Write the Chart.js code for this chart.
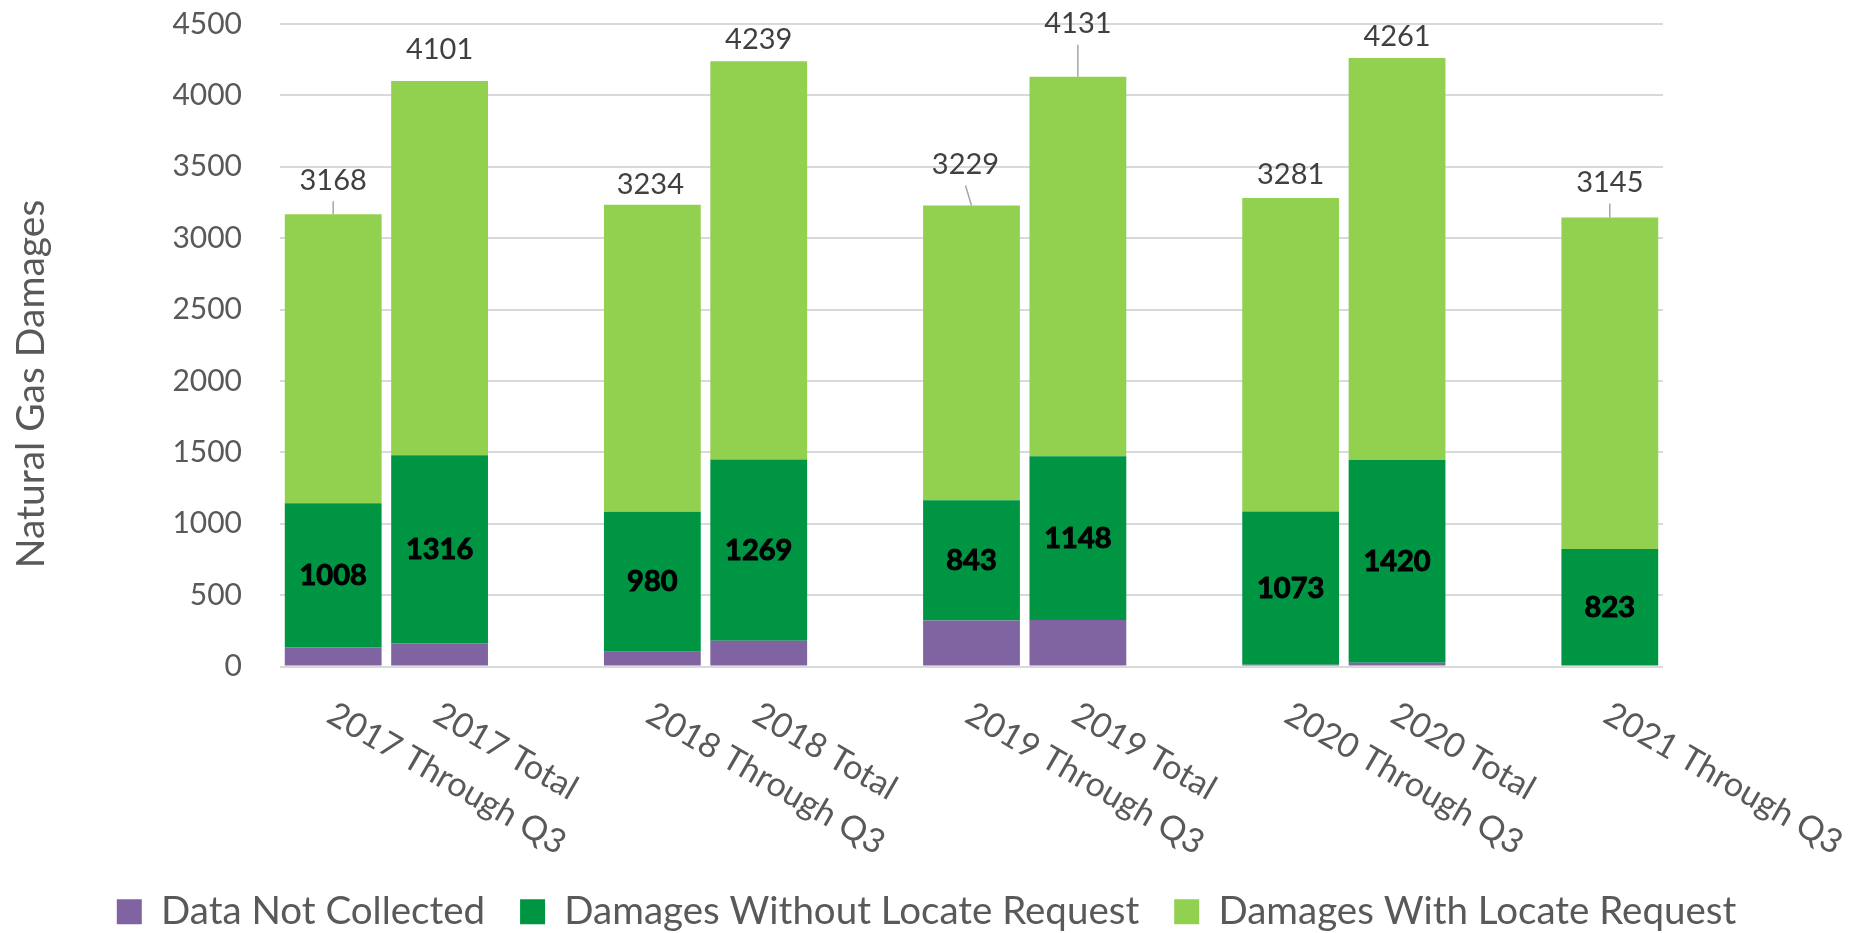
<!DOCTYPE html>
<html>
<head>
<meta charset="utf-8">
<title>Natural Gas Damages</title>
<script src="https://cdn.jsdelivr.net/npm/chart.js@4.4.0/dist/chart.umd.min.js"></script>
<style>
    html, body { margin: 0; padding: 0; background: #fff; }
    #wrap { width: 1853px; height: 933px; }
</style>
</head>
<body>
<div id="wrap"><canvas id="damagesChart" width="1853" height="933"></canvas></div>
<script>
// Categories (empty slots keep the gap between years)
const categories = ['2017 Through Q3', '2017 Total', '', '2018 Through Q3', '2018 Total', '',
    '2019 Through Q3', '2019 Total', '', '2020 Through Q3', '2020 Total', '', '2021 Through Q3'];

// Series values
const dataNotCollected = [135, 163, null, 103, 180, null, 322, 325, null, 12, 26, null, 0];
const withoutLocate = [1008, 1316, null, 980, 1269, null, 843, 1148, null, 1073, 1420, null, 823];
const withLocate = [2025, 2622, null, 2151, 2790, null, 2064, 2658, null, 2196, 2815, null, 2322];
const totals = [3168, 4101, null, 3234, 4239, null, 3229, 4131, null, 3281, 4261, null, 3145];

// Y axis tick labels
const yTickValues = [0, 500, 1000, 1500, 2000, 2500, 3000, 3500, 4000, 4500];

// How far each total label sits above its bar (px), and which get a leader line
const totalLabelLift = [34, 31, 0, 20, 22, 0, 41, 53, 0, 23, 21, 0, 35];
const totalLabelShift = [0, 0, 0, -2, 0, 0, -6, 0, 0, 0, 0, 0, 0];
const totalLabelLeader = [true, false, false, false, false, false, true, true, false, false, false, false, true];

const FONT = 'Lato, "Open Sans", sans-serif';
const GREY = '#595959';

document.addEventListener('DOMContentLoaded', function() {

    // Rotated category labels, y axis title and bar labels
    const labelPlugin = {
        id: 'labelPlugin',
        afterDatasetsDraw(chart) {
            const ctx = chart.ctx;
            const xScale = chart.scales.x;
            const area = chart.chartArea;

            // values inside the dark green segments
            const midMeta = chart.getDatasetMeta(1);
            ctx.save();
            ctx.font = 'bold 29px ' + FONT;
            ctx.textAlign = 'center';
            ctx.textBaseline = 'middle';
            ctx.fillStyle = '#000';
            ctx.strokeStyle = '#000';
            ctx.lineWidth = 1;
            midMeta.data.forEach((bar, i) => {
                if (withoutLocate[i] == null) return;
                const y = (bar.y + bar.base) / 2;
                ctx.strokeText(String(withoutLocate[i]), bar.x, y);
                ctx.fillText(String(withoutLocate[i]), bar.x, y);
            });
            ctx.restore();

            // totals above the bars
            const topMeta = chart.getDatasetMeta(2);
            ctx.save();
            ctx.font = '29px ' + FONT;
            ctx.textAlign = 'center';
            ctx.textBaseline = 'middle';
            ctx.fillStyle = '#404040';
            topMeta.data.forEach((bar, i) => {
                if (totals[i] == null) return;
                const lx = bar.x + totalLabelShift[i];
                const ly = bar.y - totalLabelLift[i];
                ctx.fillText(String(totals[i]), lx, ly);
                if (totalLabelLeader[i]) {
                    ctx.beginPath();
                    ctx.strokeStyle = '#A6A6A6';
                    ctx.lineWidth = 1.5;
                    ctx.moveTo(lx, ly + 21);
                    ctx.lineTo(bar.x, bar.y);
                    ctx.stroke();
                }
            });
            ctx.restore();

            // category labels, slanted down to the right
            ctx.save();
            ctx.font = '34px ' + FONT;
            ctx.fillStyle = GREY;
            ctx.textAlign = 'left';
            ctx.textBaseline = 'middle';
            categories.forEach((label, i) => {
                if (!label) return;
                const x = xScale.getPixelForValue(i);
                ctx.save();
                ctx.translate(x - 3, area.bottom + 45);
                ctx.rotate(Math.PI / 6);
                ctx.fillText(label, 0, 0);
                ctx.restore();
            });
            ctx.restore();

            // y axis title
            ctx.save();
            ctx.font = '39px ' + FONT;
            ctx.fillStyle = GREY;
            ctx.textAlign = 'center';
            ctx.textBaseline = 'middle';
            ctx.translate(31, 384);
            ctx.rotate(-Math.PI / 2);
            ctx.fillText('Natural Gas Damages', 0, 0);
            ctx.restore();
        }
    };

    const chartData = {
        labels: categories,
        datasets: [
            {
                label: 'Data Not Collected',
                data: dataNotCollected,
                backgroundColor: '#8064A2'
            },
            {
                label: 'Damages Without Locate Request',
                data: withoutLocate,
                backgroundColor: '#009543'
            },
            {
                label: 'Damages With Locate Request',
                data: withLocate,
                backgroundColor: '#92D050'
            }
        ]
    };

    const damagesChart = new Chart(
        document.getElementById('damagesChart'),
        {
            type: 'bar',
            data: chartData,
            plugins: [labelPlugin],
            options: {
                responsive: false,
                animation: false,
                barPercentage: 0.91,
                categoryPercentage: 1,
                layout: {
                    padding: { top: 24, left: 0, right: 0, bottom: -8 }
                },
                plugins: {
                    legend: {
                        position: 'bottom',
                        labels: {
                            boxWidth: 25,
                            boxHeight: 25,
                            padding: 35,
                            color: GREY,
                            font: { family: FONT, size: 38.5 }
                        }
                    },
                    tooltip: { enabled: false }
                },
                scales: {
                    x: {
                        stacked: true,
                        grid: { display: false },
                        border: { display: false },
                        ticks: { display: false },
                        afterFit: function(scale) { scale.height = 191; }
                    },
                    y: {
                        stacked: true,
                        min: 0,
                        max: 4500,
                        afterBuildTicks: function(scale) {
                            scale.ticks = yTickValues.map(v => ({ value: v }));
                        },
                        ticks: {
                            color: GREY,
                            padding: 0,
                            font: { family: FONT, size: 30 },
                            callback: function(value) { return String(value); }
                        },
                        grid: {
                            color: '#D9D9D9',
                            lineWidth: 2,
                            drawTicks: true,
                            tickLength: 38,
                            tickColor: 'rgba(0,0,0,0)'
                        },
                        border: { display: false },
                        afterFit: function(scale) { scale.width = 280; }
                    },
                    // empty right-hand axis that only keeps room at the right edge
                    yPad: {
                        position: 'right',
                        grid: { display: false },
                        ticks: { display: false },
                        border: { display: false },
                        afterFit: function(scale) { scale.width = 190; }
                    }
                }
            }
        }
    );
});
</script>
</body>
</html>
